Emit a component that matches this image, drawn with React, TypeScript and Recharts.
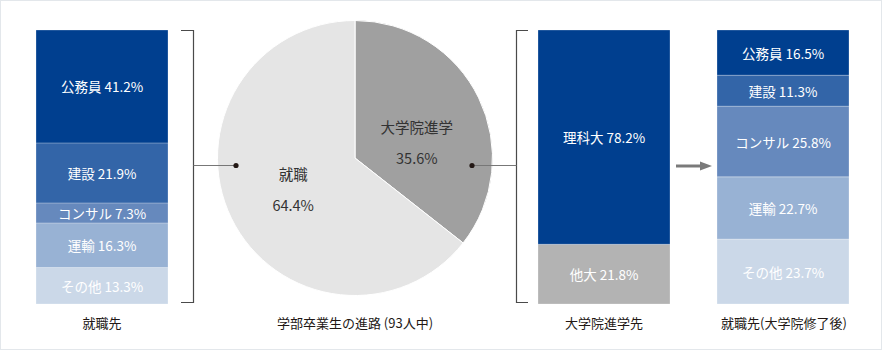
import { BarChart, Bar, XAxis, YAxis, LabelList, PieChart, Pie, Cell } from 'recharts';

// 就職先 (学部卒)
const jobLabels = ['公務員', '建設', 'コンサル', '運輸', 'その他'];
const jobShares = [41.2, 21.9, 7.3, 16.3, 13.3];
// 就職先 (大学院修了後)
const gradJobShares = [16.5, 11.3, 25.8, 22.7, 23.7];
// 大学院進学先
const schoolLabels = ['理科大', '他大'];
const schoolShares = [78.2, 21.8];
// 学部卒業生の進路
const pathLabels = ['大学院進学', '就職'];
const pathShares = [35.6, 64.4];

const captions = ['就職先', '学部卒業生の進路 (93人中)', '大学院進学先', '就職先(大学院修了後)'];

const JOB_COLORS = ['#003f8f', '#3365a8', '#6689bd', '#98b2d4', '#cbd8e8'];
const SCHOOL_COLORS = ['#003f8f', '#b3b3b3'];
const PATH_COLORS = ['#a0a0a0', '#e5e5e5'];

const FONT = '"Noto Sans CJK JP", "Noto Sans", sans-serif';
const BAR_W = 132;
const BAR_H = 274;

function StackedColumn({ labels, values, colors }: { labels: string[]; values: number[]; colors: string[] }) {
  const row: Record<string, number | string> = { name: 'x' };
  labels.forEach((l, i) => (row[l] = values[i]));
  // first Bar in the stack sits at the bottom, so reverse to keep the first label on top
  const order = labels.map((l, i) => i).reverse();
  return (
    <BarChart width={BAR_W} height={BAR_H} data={[row]} margin={{ top: 0, right: 0, bottom: 0, left: 0 }} barCategoryGap={0}>
      <XAxis dataKey="name" hide />
      <YAxis hide domain={[0, 100]} />
      {order.map((i) => (
        <Bar key={labels[i]} dataKey={labels[i]} stackId="a" fill={colors[i]} isAnimationActive={false}
          stroke="#ffffff" strokeOpacity={0.25} strokeWidth={1}>
          <LabelList
            dataKey={labels[i]}
            content={(p: any) => (
              <text
                x={p.x + p.width / 2}
                y={p.y + p.height / 2}
                textAnchor="middle"
                dominantBaseline="central"
                fill="#ffffff"
                fontSize={13.5}
                fontFamily={FONT}
              >
                {`${labels[i]} ${values[i]}%`}
              </text>
            )}
          />
        </Bar>
      ))}
    </BarChart>
  );
}

const RAD = Math.PI / 180;

function PathPie() {
  const data = pathLabels.map((name, i) => ({ name, value: pathShares[i] }));
  const renderLabel = (p: any) => {
    const r = p.outerRadius * 0.5;
    const x = p.cx + r * Math.cos(-p.midAngle * RAD);
    const y = p.cy + r * Math.sin(-p.midAngle * RAD) + (p.index === 0 ? 14 : 0);
    return (
      <g fontFamily={FONT} fontSize={14.5} fill="#333333">
        <text x={x} y={y - 15} textAnchor="middle" dominantBaseline="central">{p.name}</text>
        <text x={x} y={y + 16} textAnchor="middle" dominantBaseline="central">{`${p.value}%`}</text>
      </g>
    );
  };
  return (
    <PieChart width={276} height={276} margin={{ top: 0, right: 0, bottom: 0, left: 0 }}>
      <Pie
        data={data}
        dataKey="value"
        cx="50%"
        cy="50%"
        outerRadius={137.5}
        startAngle={90}
        endAngle={-270}
        stroke="#ffffff"
        strokeWidth={1}
        label={renderLabel}
        labelLine={false}
        isAnimationActive={false}
      >
        {data.map((d, i) => (
          <Cell key={d.name} fill={PATH_COLORS[i]} />
        ))}
      </Pie>
    </PieChart>
  );
}

const captionStyle = (cx: number): React.CSSProperties => ({
  position: 'absolute',
  top: 313,
  left: cx - 100,
  width: 200,
  textAlign: 'center',
  fontSize: 13,
  lineHeight: '18px',
  color: '#231815',
  fontFamily: FONT,
});

export default function App() {
  return (
    <div
      style={{
        position: 'absolute',
        left: 0,
        top: 0,
        width: 880,
        height: 348,
        border: '1px solid #e3e7eb',
        background: '#ffffff',
        fontFamily: FONT,
        overflow: 'hidden',
      }}
    >
      <div style={{ position: 'absolute', left: 35, top: 29 }}>
        <StackedColumn labels={jobLabels} values={jobShares} colors={JOB_COLORS} />
      </div>
      <div style={{ position: 'absolute', left: 216, top: 19 }}>
        <PathPie />
      </div>
      <div style={{ position: 'absolute', left: 537, top: 29 }}>
        <StackedColumn labels={schoolLabels} values={schoolShares} colors={SCHOOL_COLORS} />
      </div>
      <div style={{ position: 'absolute', left: 716, top: 29 }}>
        <StackedColumn labels={jobLabels} values={gradJobShares} colors={JOB_COLORS} />
      </div>

      {/* brackets and arrow */}
      <svg width={880} height={348} style={{ position: 'absolute', left: -1, top: -1, pointerEvents: 'none' }}>
        <path d="M181 30.5 H193.5 V302.5 H181" fill="none" stroke="#4a4a4a" strokeWidth={1.2} />
        <line x1={193.5} y1={165.5} x2={236} y2={165.5} stroke="#777777" strokeWidth={1} />
        <circle cx={236} cy={165.5} r={2.6} fill="#231815" />
        <path d="M528 30.5 H516.5 V302.5 H528" fill="none" stroke="#4a4a4a" strokeWidth={1.2} />
        <line x1={472} y1={165.5} x2={516.5} y2={165.5} stroke="#777777" strokeWidth={1} />
        <circle cx={472} cy={165.5} r={2.6} fill="#231815" />
        <line x1={676} y1={166} x2={702} y2={166} stroke="#7a7a7a" strokeWidth={3} />
        <path d="M700 161.5 L712 166 L700 170.5 Z" fill="#7a7a7a" />
      </svg>

      <div style={captionStyle(101)}>{captions[0]}</div>
      <div style={captionStyle(354)}>{captions[1]}</div>
      <div style={captionStyle(603)}>{captions[2]}</div>
      <div style={captionStyle(783)}>{captions[3]}</div>
    </div>
  );
}
